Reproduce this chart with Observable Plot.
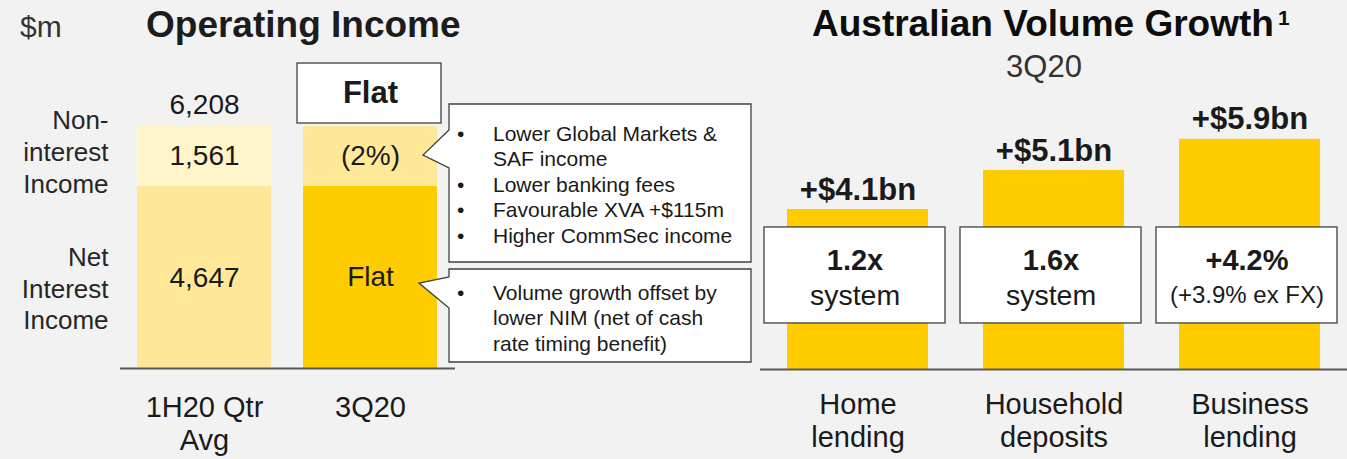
<!DOCTYPE html>
<html>
<head>
<meta charset="utf-8">
<script src="https://cdn.jsdelivr.net/npm/d3@7"></script>
<script src="https://cdn.jsdelivr.net/npm/@observablehq/plot@0.6"></script>
<style>
  html, body { margin: 0; padding: 0; background: #F2F2F2; }
  #wrap { position: relative; width: 1347px; height: 459px; overflow: hidden; background: #F2F2F2;
          font-family: "Liberation Sans", Arial, sans-serif; }
  #wrap > svg { position: absolute; top: 0; }
</style>
</head>
<body>
<div id="wrap"></div>
<script>
// ---------------- data ----------------
const incomeCategories = ["1H20 Qtr Avg", "3Q20"];
const incomeCategoryLabels = ["1H20 Qtr\nAvg", "3Q20"];
const netInterestIncome = [4647, 4650];
const nonInterestIncome = [1561, 1530];
const netInterestLabels = ["4,647", "Flat"];
const nonInterestLabels = ["1,561", "(2%)"];
const totalLabels = ["6,208", ""];
const incomeChangeBadge = ["", "Flat"];
const segmentNames = ["Non-\ninterest\nIncome", "Net\nInterest\nIncome"];

const volumeCategories = ["Home lending", "Household deposits", "Business lending"];
const volumeCategoryLabels = ["Home\nlending", "Household\ndeposits", "Business\nlending"];
const volumeGrowthBn = [4.1, 5.1, 5.9];
const volumeLabels = ["+$4.1bn", "+$5.1bn", "+$5.9bn"];
const systemHeadline = ["1.2x", "1.6x", "+4.2%"];
const systemNote = ["system", "system", "(+3.9% ex FX)"];

const nonInterestCallout = [
  ["•", "Lower Global Markets &"],
  ["", "SAF income"],
  ["•", "Lower banking fees"],
  ["•", "Favourable XVA +$115m"],
  ["•", "Higher CommSec income"]
];
const netInterestCallout = [
  ["•", "Volume growth offset by"],
  ["", "lower NIM (net of cash"],
  ["", "rate timing benefit)"]
];

// ---------------- style ----------------
const FONT = '"Liberation Sans", Arial, sans-serif';
const segColors = {
  "1H20 Qtr Avg": { nii: "#FFE999", non: "#FFF4CA" },
  "3Q20": { nii: "#FFCC00", non: "#FFE999" }
};
const INK = "#1a1a1a";
const BOX_STROKE = "#404040";
const AXIS = "#595959";

const wrap = document.getElementById("wrap");

// ---------------- left: Operating Income ----------------
const incomeRows = incomeCategories.flatMap((c, i) => [
  { cat: c, seg: "nii", base: 0, value: netInterestIncome[i], label: netInterestLabels[i] },
  { cat: c, seg: "non", base: netInterestIncome[i], value: nonInterestIncome[i], label: nonInterestLabels[i] }
]);
const totals = incomeCategories.map((c, i) => ({
  cat: c, total: netInterestIncome[i] + nonInterestIncome[i], label: totalLabels[i], badge: incomeChangeBadge[i]
}));
const badgeRows = totals.filter(d => d.badge);
const nonRow = [{ text: segmentNames[0], y: netInterestIncome[0] + nonInterestIncome[0] / 2 }];
const netRow = [{ text: segmentNames[1], y: netInterestIncome[0] / 2 }];
const sideOpts = { frameAnchor: "left", y: "y", text: "text", textAnchor: "end", dx: -12, fontSize: 26, fill: "#262626", lineAnchor: "middle", lineHeight: 1.22 };

const left = Plot.plot({
  width: 760, height: 459,
  marginTop: 0, marginBottom: 91, marginLeft: 120, marginRight: 305,
  x: { domain: incomeCategories, paddingInner: 0.19, paddingOuter: 0.1, axis: null },
  y: { domain: [0, 9400], axis: null },
  color: { type: "identity" },
  style: { background: "transparent", fontFamily: FONT, overflow: "visible" },
  marks: [
    Plot.barY(incomeRows, { x: "cat", y1: "base", y2: d => d.base + d.value, fill: d => segColors[d.cat][d.seg] }),
    Plot.ruleY([0], { stroke: AXIS, strokeWidth: 2 }),
    Plot.text(incomeRows, { x: "cat", y: d => d.base + d.value / 2, text: "label", fontSize: 28, fill: INK, lineAnchor: "middle" }),
    Plot.text(totals.filter(d => d.label), { x: "cat", y: "total", text: "label", fontSize: 28, fill: INK, lineAnchor: "bottom", dy: -11 }),
    Plot.barY(badgeRows, { x: "cat", y1: 6258, y2: 7790, fill: "white", stroke: BOX_STROKE, strokeWidth: 1.3, insetLeft: -6, insetRight: -4 }),
    Plot.text(badgeRows, { x: "cat", y: 7024, text: "badge", fontSize: 31, fontWeight: "bold", fill: INK, lineAnchor: "middle" }),
    Plot.text(incomeCategories, { x: d => d, y: 0, text: (d, i) => incomeCategoryLabels[i], fontSize: 29, fill: INK, lineAnchor: "top", lineHeight: 1.14, dy: 25 }),
    Plot.text(nonRow, { ...sideOpts, dy: -5 }),
    Plot.text(netRow, { ...sideOpts, dy: 10 })
  ]
});
left.style.left = "0px";
wrap.appendChild(left);

// ---------------- right: Australian Volume Growth ----------------
const volRows = volumeCategories.map((c, i) => ({
  cat: c, value: volumeGrowthBn[i], label: volumeLabels[i], head: systemHeadline[i], note: systemNote[i]
}));
const BOX_LO = 1.18, BOX_HI = 3.64, BOX_MID = (BOX_LO + BOX_HI) / 2;

const right = Plot.plot({
  width: 587, height: 459,
  marginTop: 0, marginBottom: 90, marginLeft: 0, marginRight: 0,
  x: { domain: volumeCategories, paddingInner: 0.279, paddingOuter: 0.13, axis: null },
  y: { domain: [0, 9.457], axis: null },
  style: { background: "transparent", fontFamily: FONT, overflow: "visible" },
  marks: [
    Plot.barY(volRows, { x: "cat", y: "value", fill: "#FFCC00" }),
    Plot.ruleY([0], { stroke: AXIS, strokeWidth: 2 }),
    Plot.text(volRows, { x: "cat", y: "value", text: "label", fontSize: 31, fontWeight: "bold", fill: INK, lineAnchor: "bottom", dy: -10 }),
    Plot.barY(volRows, { x: "cat", y1: BOX_LO, y2: BOX_HI, fill: "white", stroke: BOX_STROKE, strokeWidth: 1.3, insetLeft: -23, insetRight: -17 }),
    Plot.text(volRows, { x: "cat", y: BOX_MID, text: "head", dx: -3, dy: -15, fontSize: 29, fontWeight: "bold", fill: INK, lineAnchor: "middle" }),
    Plot.text(volRows, { x: "cat", y: BOX_MID, text: "note", dx: -3, dy: 20, fontSize: d => d.note.length > 8 ? 24 : 28.5, fill: INK, lineAnchor: "middle" }),
    Plot.text(volumeCategories, { x: d => d, y: 0, text: (d, i) => volumeCategoryLabels[i], fontSize: 29, fill: INK, lineAnchor: "top", lineHeight: 1.14, dy: 21 })
  ]
});
right.style.left = "760px";
wrap.appendChild(right);

// ---------------- overlay: titles and callouts ----------------
const ov = d3.create("svg")
  .attr("width", 1347).attr("height", 459)
  .style("position", "absolute").style("left", "0px").style("top", "0px")
  .style("font-family", FONT).style("pointer-events", "none");

ov.append("text").attr("x", 20).attr("y", 37).attr("font-size", 30).attr("fill", "#333").text("$m");
ov.append("text").attr("x", 146).attr("y", 37).attr("font-size", 37).attr("font-weight", "bold").attr("fill", "#1c1c1c").text("Operating Income");
const t2 = ov.append("text").attr("x", 812).attr("y", 36).attr("font-size", 37).attr("font-weight", "bold").attr("fill", "#0d0d0d");
t2.append("tspan").text("Australian Volume Growth");
t2.append("tspan").attr("font-size", 21).attr("dx", 4).attr("dy", -11).text("1");
ov.append("text").attr("x", 1044).attr("y", 77).attr("text-anchor", "middle").attr("font-size", 31).attr("fill", "#333").text("3Q20");

function callout(path, lines, firstBaseline, step) {
  ov.append("path").attr("d", path).attr("fill", "white").attr("stroke", BOX_STROKE).attr("stroke-width", 1.3).attr("stroke-linejoin", "miter");
  lines.forEach(([b, t], i) => {
    const y = firstBaseline + i * step;
    if (b) ov.append("text").attr("x", 457).attr("y", y).attr("font-size", 21).attr("fill", INK).text(b);
    ov.append("text").attr("x", 493).attr("y", y).attr("font-size", 21).attr("fill", INK).text(t);
  });
}
callout("M449,104 H751 V262 H449 V168 L423,155 L449,130 Z", nonInterestCallout, 140.5, 25.5);
callout("M449,269 H751 V362 H449 V308 L419,283 L449,277 Z", netInterestCallout, 299.5, 25.5);

wrap.appendChild(ov.node());
</script>
</body>
</html>
